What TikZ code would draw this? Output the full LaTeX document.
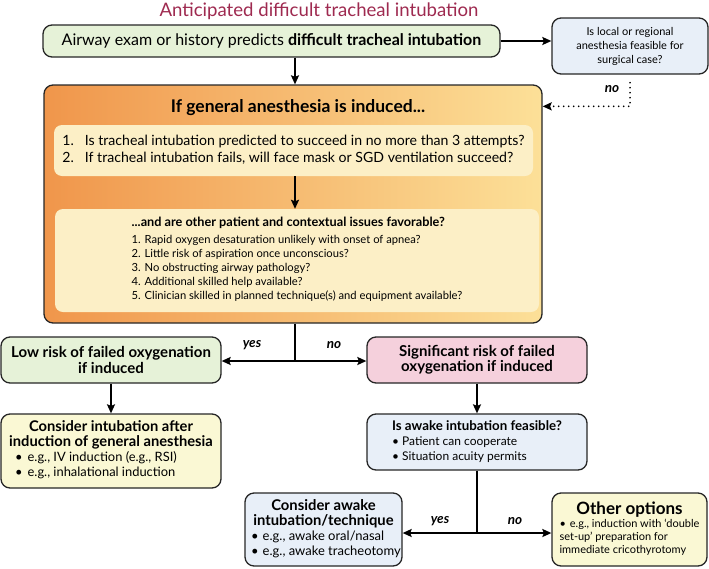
\documentclass[tikz,border=0pt]{standalone}
\usepackage{fontspec}
\setmainfont{Lato}
\usetikzlibrary{arrows.meta}

\definecolor{titlered}{RGB}{158,42,80}
\definecolor{cgreen}{RGB}{230,242,216}
\definecolor{cblue}{RGB}{232,239,248}
\definecolor{cpink}{RGB}{245,208,220}
\definecolor{cyellow}{RGB}{250,248,212}
\definecolor{orangeA}{RGB}{240,150,75}
\definecolor{orangeB}{RGB}{252,224,152}
\definecolor{cream}{RGB}{252,239,198}

\tikzset{
  box/.style={draw=black!85, line width=1.3pt, rounded corners=9pt, inner sep=0pt, align=center},
  inbox/.style={fill=cream, rounded corners=8pt, inner sep=0pt},
  arr/.style={line width=1.6pt, -{Stealth[length=9pt,width=8pt,inset=1.5pt]}},
  lab/.style={font=\fontsize{13.5}{15}\selectfont\bfseries\itshape},
}

\begin{document}
\begin{tikzpicture}[x=1pt,y=-1pt]
  \useasboundingbox (0,0) rectangle (709,568);

  \node[font=\fontsize{18.6}{20}\selectfont, text=titlered] (title) at (319,11)
    {Anticipated difficult tracheal intubation};

  \node[box, fill=cgreen, minimum width=457pt, minimum height=32pt,
        font=\fontsize{16}{18}\selectfont] (top) at (271.5,41)
    {Airway exam or history predicts \textbf{difficult tracheal intubation}};
  \node[box, fill=cblue, minimum width=156pt, minimum height=56pt,
        font=\fontsize{11}{14}\selectfont] (local) at (630,46)
    {Is local or regional\\anesthesia feasible for\\surgical case?};

  % general anesthesia block
  \node[box, left color=orangeA, right color=orangeB, minimum width=498pt, minimum height=238pt] (gen) at (293,204) {};
  \node[font=\fontsize{17.5}{19}\selectfont\bfseries] (genhead) at (298,108) {If general anesthesia is induced...};
  \node[inbox, minimum width=479pt, minimum height=51pt, font=\fontsize{14.1}{17}\selectfont] (q1) at (293.5,150.5)
    {\begin{tabular}{@{}l@{\hspace{11pt}}l@{}}
     1. & Is tracheal intubation predicted to succeed in no more than 3 attempts?\\
     2. & If tracheal intubation fails, will face mask or SGD ventilation succeed?
     \end{tabular}};
  \node[inbox, minimum width=484pt, minimum height=103pt, font=\fontsize{11.2}{14}\selectfont] (q2) at (297,260.5)
    {\begin{tabular}{@{}l@{}}
     {\fontsize{12.7}{14}\selectfont\bfseries ...and are other patient and contextual issues favorable?}\\[3pt]
     1. Rapid oxygen desaturation unlikely with onset of apnea?\\
     2. Little risk of aspiration once unconscious?\\
     3. No obstructing airway pathology?\\
     4. Additional skilled help available?\\
     5. Clinician skilled in planned technique(s) and equipment available?
     \end{tabular}};

  \node[box, fill=cgreen, minimum width=220pt, minimum height=46pt,
        font=\fontsize{15}{15.5}\selectfont\bfseries] (low) at (111,360)
    {Low risk of failed oxygenation\\if induced};
  \node[box, fill=cpink, minimum width=220pt, minimum height=46pt,
        font=\fontsize{15}{15.5}\selectfont\bfseries] (sig) at (477,360)
    {Significant risk of failed\\oxygenation if induced};

  \node[box, fill=cyellow, minimum width=220pt, minimum height=74pt,
        font=\fontsize{12.9}{15}\selectfont] (after) at (111,451)
    {\begin{tabular}{@{\hspace{6pt}}l@{\hspace{5pt}}l@{}}
     \multicolumn{2}{@{}c@{}}{\fontsize{14.7}{15.5}\selectfont\bfseries Consider intubation after}\\
     \multicolumn{2}{@{}c@{}}{\fontsize{14.7}{15.5}\selectfont\bfseries induction of general anesthesia}\\
     \textbullet & e.g., IV induction (e.g., RSI)\\
     \textbullet & e.g., inhalational induction
     \end{tabular}};
  \node[box, fill=cblue, minimum width=220pt, minimum height=56pt,
        font=\fontsize{12}{15}\selectfont] (awake) at (477,442)
    {\begin{tabular}{@{}l@{\hspace{3pt}}l@{}}
     \multicolumn{2}{@{}l@{}}{\fontsize{13.3}{15}\selectfont\bfseries Is awake intubation feasible?}\\
     \textbullet & Patient can cooperate\\
     \textbullet & Situation acuity permits
     \end{tabular}};

  \node[box, fill=cblue, minimum width=157pt, minimum height=73pt,
        font=\fontsize{13}{15}\selectfont] (tech) at (323.5,529.5)
    {\begin{tabular}{@{\hspace{5pt}}l@{\hspace{4pt}}l@{}}
     \multicolumn{2}{@{}c@{}}{\fontsize{14.8}{16}\selectfont\bfseries Consider awake}\\
     \multicolumn{2}{@{}c@{}}{\fontsize{14.8}{16}\selectfont\bfseries intubation/technique}\\
     \textbullet & e.g., awake oral/nasal\\
     \textbullet & e.g., awake tracheotomy
     \end{tabular}};
  \node[box, fill=cyellow, minimum width=155pt, minimum height=73pt,
        font=\fontsize{11}{13}\selectfont] (other) at (629.5,529.5)
    {\begin{tabular}{@{}l@{\hspace{4pt}}l@{}}
     \multicolumn{2}{@{}c@{}}{\fontsize{17}{19}\selectfont\bfseries Other options}\\
     \textbullet & e.g., induction with `double\\
     \multicolumn{2}{@{}l@{}}{set-up' preparation for}\\
     \multicolumn{2}{@{}l@{}}{immediate cricothyrotomy}
     \end{tabular}};

  % connectors
  \coordinate (j1) at (295,361);
  \coordinate (j2) at (477,533);
  \draw[arr] (top.east) -- (top.east -| local.west);
  \draw[arr] (j1 |- top.south) -- (j1 |- gen.north);
  \draw[arr, dash pattern=on 0pt off 5pt, line cap=round, line width=1.8pt]
    ([yshift=-8pt]local.south) |- ([yshift=-22pt]gen.north east);
  \draw[arr] (j1 |- q1.south) -- (j1 |- q2.north);
  \draw[line width=1.6pt] (j1 |- gen.south) -- (j1);
  \draw[arr] (j1) -- (j1 -| low.east);
  \draw[arr] (j1) -- (j1 -| sig.west);
  \draw[arr] (low.south) -- (after.north);
  \draw[arr] (sig.south) -- (awake.north);
  \draw[line width=1.6pt] (awake.south) -- (j2);
  \draw[arr] (j2) -- (j2 -| tech.east);
  \draw[arr] (j2) -- (j2 -| other.west);

  \node[lab] (no0) at (612,89) {no};
  \node[lab] (yes1) at (252,345) {yes};
  \node[lab] (no1) at (334,345) {no};
  \node[lab] (yes2) at (440,521) {yes};
  \node[lab] (no2) at (515,521) {no};
\end{tikzpicture}
\end{document}
